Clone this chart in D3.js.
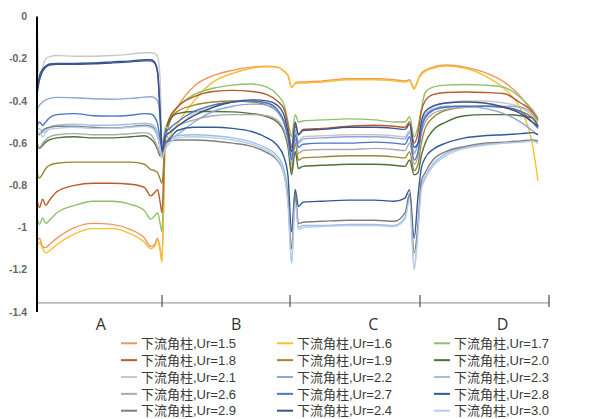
<!DOCTYPE html>
<html>
<head>
<meta charset="utf-8">
<script src="https://cdn.jsdelivr.net/npm/d3@7"></script>
<style>
  body { margin: 0; background: #fff; }
  svg { display: block; }
</style>
</head>
<body>
<div id="chart"></div>
<script>
// positions along the perimeter, in face units (A = 0..1, B = 1..2, C = 2..3, D = 3..4)
const positions = [0, 0.02, 0.045, 0.07, 0.1, 0.16, 0.3, 0.45, 0.6, 0.75, 0.86, 0.91, 0.94, 0.965, 0.985, 1.0,
  1.025, 1.06, 1.12, 1.25, 1.4, 1.55, 1.7, 1.82, 1.9, 1.955, 1.985,
  2.012, 2.04, 2.065, 2.1, 2.25, 2.45, 2.65, 2.8, 2.885, 2.92, 2.955,
  2.985, 3.01, 3.04, 3.1, 3.2, 3.35, 3.5, 3.65, 3.78, 3.87, 3.915]

const categories = ['A', 'B', 'C', 'D']
const categoryLabelPos = [0.51, 1.58, 2.64, 3.64]
const faceTicks = [1, 2, 3, 4]
const yTicks = [0, -0.2, -0.4, -0.6, -0.8, -1, -1.2, -1.4]
const yTickLabels = ['0', '-0.2', '-0.4', '-0.6', '-0.8', '-1', '-1.2', '-1.4']

const ur15 = [-1.07, -1.05, -1.09, -1.095, -1.08, -1.05, -1.0, -0.98, -0.985, -1.01, -1.05, -1.09, -1.08, -1.05, -1.1, -1.15,
  -0.6, -0.5, -0.43, -0.33, -0.28, -0.255, -0.24, -0.235, -0.24, -0.26, -0.28,
  -0.335, -0.315, -0.31, -0.31, -0.305, -0.295, -0.295, -0.3, -0.305, -0.3, -0.34,
  -0.3, -0.27, -0.255, -0.24, -0.23, -0.24, -0.265, -0.31, -0.38, -0.46, -0.52]
const ur16 = [-1.09, -1.07, -1.1, -1.12, -1.11, -1.08, -1.03, -1.005, -1.005, -1.03, -1.07, -1.1, -1.09, -1.06, -1.11, -1.165,
  -0.62, -0.57, -0.51, -0.4, -0.31, -0.27, -0.245, -0.238, -0.24, -0.26, -0.28,
  -0.335, -0.318, -0.315, -0.315, -0.31, -0.3, -0.3, -0.305, -0.31, -0.305, -0.345,
  -0.3, -0.275, -0.26, -0.245, -0.235, -0.245, -0.28, -0.34, -0.44, -0.6, -0.78]
const ur17 = [-0.955, -0.985, -0.955, -0.98, -0.965, -0.93, -0.895, -0.875, -0.875, -0.89, -0.92, -0.96, -0.945, -0.93, -0.98, -1.02,
  -0.55, -0.48, -0.43, -0.37, -0.34, -0.325, -0.32, -0.335, -0.37, -0.42, -0.5,
  -0.57, -0.465, -0.5, -0.495, -0.49, -0.485, -0.49, -0.5, -0.5, -0.475, -0.57,
  -0.52, -0.44, -0.36, -0.335, -0.325, -0.322, -0.325, -0.335, -0.385, -0.44, -0.48]
const ur18 = [-0.87, -0.905, -0.865, -0.895, -0.87, -0.83, -0.8, -0.79, -0.79, -0.795, -0.81, -0.85, -0.835, -0.82, -0.88, -0.93,
  -0.57, -0.48, -0.43, -0.38, -0.355, -0.35, -0.355, -0.37, -0.4, -0.44, -0.52,
  -0.62, -0.52, -0.56, -0.535, -0.53, -0.52, -0.515, -0.52, -0.525, -0.5, -0.6,
  -0.55, -0.45, -0.4, -0.37, -0.36, -0.358, -0.36, -0.365, -0.41, -0.45, -0.49]
const ur19 = [-0.74, -0.765, -0.745, -0.72, -0.705, -0.695, -0.69, -0.69, -0.69, -0.69, -0.7, -0.725, -0.73, -0.74, -0.77, -0.79,
  -0.58, -0.5, -0.45, -0.42, -0.405, -0.4, -0.405, -0.42, -0.45, -0.5, -0.58,
  -0.73, -0.6, -0.68, -0.67, -0.665, -0.66, -0.66, -0.665, -0.67, -0.64, -0.73,
  -0.7, -0.6, -0.53, -0.48, -0.445, -0.43, -0.425, -0.43, -0.45, -0.48, -0.52]
const ur20 = [-0.6, -0.625, -0.61, -0.595, -0.585, -0.575, -0.57, -0.575, -0.575, -0.57, -0.565, -0.58, -0.6, -0.63, -0.66, -0.66,
  -0.55, -0.49, -0.46, -0.45, -0.45, -0.452, -0.46, -0.475, -0.5, -0.55, -0.62,
  -0.75, -0.64, -0.72, -0.71, -0.705, -0.7, -0.7, -0.705, -0.71, -0.68, -0.75,
  -0.74, -0.66, -0.6, -0.54, -0.5, -0.47, -0.465, -0.465, -0.47, -0.48, -0.52]
const ur21 = [-0.02, -0.3, -0.24, -0.2, -0.19, -0.185, -0.188, -0.188, -0.185, -0.178, -0.172, -0.172, -0.175, -0.19, -0.3, -0.62,
  -0.52, -0.54, -0.52, -0.46, -0.42, -0.405, -0.4, -0.41, -0.44, -0.5, -0.57,
  -0.65, -0.53, -0.59, -0.57, -0.565, -0.56, -0.56, -0.565, -0.57, -0.54, -0.64,
  -0.6, -0.52, -0.47, -0.43, -0.41, -0.4, -0.4, -0.41, -0.43, -0.47, -0.5]
const ur22 = [-0.44, -0.42, -0.405, -0.395, -0.388, -0.383, -0.385, -0.39, -0.392, -0.388, -0.382, -0.38, -0.385, -0.4, -0.48, -0.6,
  -0.56, -0.58, -0.56, -0.5, -0.45, -0.425, -0.415, -0.42, -0.45, -0.51, -0.58,
  -0.66, -0.54, -0.6, -0.58, -0.575, -0.57, -0.57, -0.575, -0.58, -0.55, -0.65,
  -0.6, -0.52, -0.47, -0.44, -0.425, -0.425, -0.435, -0.46, -0.5, -0.54, -0.56]
const ur23 = [-0.54, -0.53, -0.55, -0.54, -0.525, -0.515, -0.51, -0.515, -0.515, -0.51, -0.505, -0.51, -0.52, -0.55, -0.6, -0.66,
  -0.62, -0.585, -0.565, -0.56, -0.565, -0.575, -0.595, -0.625, -0.66, -0.73, -0.85,
  -1.17, -0.86, -1.0, -0.99, -0.99, -0.985, -0.985, -0.99, -0.95, -0.85, -1.19,
  -1.0, -0.8, -0.76, -0.7, -0.65, -0.62, -0.605, -0.6, -0.595, -0.59, -0.6]
const ur26 = [-0.6, -0.62, -0.6, -0.585, -0.57, -0.56, -0.555, -0.56, -0.56, -0.555, -0.55, -0.56, -0.585, -0.62, -0.65, -0.67,
  -0.55, -0.55, -0.52, -0.49, -0.47, -0.465, -0.465, -0.47, -0.49, -0.54, -0.6,
  -0.7, -0.58, -0.65, -0.635, -0.63, -0.63, -0.625, -0.63, -0.635, -0.6, -0.7,
  -0.66, -0.56, -0.5, -0.46, -0.44, -0.43, -0.425, -0.425, -0.43, -0.46, -0.5]
const ur27 = [-0.52, -0.5, -0.515, -0.5, -0.48, -0.465, -0.46, -0.47, -0.472, -0.468, -0.46, -0.462, -0.475, -0.51, -0.58, -0.64,
  -0.55, -0.53, -0.5, -0.45, -0.42, -0.405, -0.4, -0.41, -0.44, -0.5, -0.57,
  -0.68, -0.56, -0.62, -0.605, -0.6, -0.6, -0.595, -0.6, -0.605, -0.57, -0.68,
  -0.64, -0.54, -0.48, -0.445, -0.43, -0.425, -0.425, -0.43, -0.45, -0.5, -0.53]
const ur28 = [-0.36, -0.28, -0.25, -0.235, -0.225, -0.222, -0.222, -0.22, -0.215, -0.21, -0.205, -0.205, -0.215, -0.26, -0.45, -0.63,
  -0.6, -0.58, -0.54, -0.525, -0.525, -0.53, -0.545, -0.575, -0.61, -0.67, -0.76,
  -1.02, -0.82, -0.9, -0.88, -0.875, -0.87, -0.87, -0.875, -0.86, -0.82, -1.05,
  -0.85, -0.72, -0.67, -0.63, -0.6, -0.575, -0.565, -0.56, -0.555, -0.55, -0.56]
const ur29 = [-0.55, -0.56, -0.54, -0.53, -0.525, -0.52, -0.52, -0.525, -0.528, -0.522, -0.515, -0.52, -0.535, -0.57, -0.62, -0.66,
  -0.6, -0.59, -0.585, -0.585, -0.59, -0.6, -0.615, -0.645, -0.68, -0.75, -0.87,
  -1.1, -0.84, -0.98, -0.975, -0.97, -0.965, -0.965, -0.97, -0.93, -0.84, -1.12,
  -0.98, -0.78, -0.74, -0.68, -0.64, -0.615, -0.6, -0.595, -0.59, -0.585, -0.59]
const ur24 = [-0.37, -0.3, -0.26, -0.24, -0.23, -0.226, -0.226, -0.224, -0.22, -0.215, -0.21, -0.21, -0.22, -0.27, -0.47, -0.64,
  -0.57, -0.55, -0.52, -0.47, -0.43, -0.405, -0.395, -0.4, -0.42, -0.47, -0.55,
  -0.64, -0.5, -0.56, -0.54, -0.535, -0.525, -0.525, -0.53, -0.535, -0.51, -0.62,
  -0.6, -0.5, -0.45, -0.425, -0.41, -0.405, -0.41, -0.43, -0.46, -0.5, -0.52]
const ur30 = [-0.56, -0.55, -0.57, -0.55, -0.535, -0.53, -0.525, -0.53, -0.53, -0.525, -0.52, -0.525, -0.54, -0.57, -0.62, -0.67,
  -0.63, -0.6, -0.575, -0.57, -0.575, -0.585, -0.605, -0.635, -0.675, -0.75, -0.9,
  -1.17, -0.88, -1.01, -1.0, -0.995, -0.99, -0.99, -0.995, -0.96, -0.87, -1.2,
  -1.02, -0.82, -0.77, -0.71, -0.66, -0.625, -0.61, -0.6, -0.595, -0.59, -0.6]

// legend order
const seriesNames = ['下流角柱,Ur=1.5', '下流角柱,Ur=1.6', '下流角柱,Ur=1.7',
  '下流角柱,Ur=1.8', '下流角柱,Ur=1.9', '下流角柱,Ur=2.0',
  '下流角柱,Ur=2.1', '下流角柱,Ur=2.2', '下流角柱,Ur=2.3',
  '下流角柱,Ur=2.6', '下流角柱,Ur=2.7', '下流角柱,Ur=2.8',
  '下流角柱,Ur=2.9', '下流角柱,Ur=2.4', '下流角柱,Ur=3.0']
const seriesValues = [ur15, ur16, ur17, ur18, ur19, ur20, ur21, ur22, ur23, ur26, ur27, ur28, ur29, ur24, ur30]
const seriesColors = ['#F0965A', '#F8C030', '#90C06A', '#B85C2C', '#A08432', '#52703A',
  '#C8C8C8', '#8EA6D8', '#9CC0E4', '#ABABAB', '#4A76C6', '#2F5A9A',
  '#7F7F7F', '#3D5288', '#B8CCEA']

const width = 604, height = 419

const svg = d3.select('#chart').append('svg')
  .attr('width', width)
  .attr('height', height)

const x = d3.scaleLinear()
  .domain([0, 1, 2, 3, 4])
  .range([37, 162, 290, 420, 549])
const y = d3.scaleLinear()
  .domain([0, -1.4])
  .range([16.5, 312])

// y axis labels
svg.append('g').selectAll('text')
  .data(yTicks)
  .enter().append('text')
    .attr('x', 27)
    .attr('y', d => y(d))
    .attr('dy', '0.35em')
    .attr('text-anchor', 'end')
    .attr('font-family', 'Liberation Sans, Arial, sans-serif')
    .attr('font-size', '10.5px')
    .attr('font-weight', 'bold')
    .attr('fill', '#666')
    .text((d, i) => yTickLabels[i])

// category axis
const axisY = y(-1.357)
svg.append('line')
  .attr('x1', x(0)).attr('x2', x(4))
  .attr('y1', axisY).attr('y2', axisY)
  .attr('stroke', '#8c8c8c')
  .attr('stroke-width', 1)

svg.append('g').selectAll('line')
  .data(faceTicks)
  .enter().append('line')
    .attr('x1', d => x(d)).attr('x2', d => x(d))
    .attr('y1', axisY - 8).attr('y2', axisY + 4)
    .attr('stroke', '#595959')
    .attr('stroke-width', 1.3)

svg.append('g').selectAll('text')
  .data(categories)
  .enter().append('text')
    .attr('x', (d, i) => x(categoryLabelPos[i]))
    .attr('y', 330)
    .attr('text-anchor', 'middle')
    .attr('font-family', 'Open Sans, Liberation Sans, sans-serif')
    .attr('font-size', '16px')
    .attr('fill', '#333')
    .text(d => d)

// lines
const line = d3.line()
  .x((d, i) => x(positions[i]))
  .y(d => y(d))
  .curve(d3.curveMonotoneX)

svg.append('g').selectAll('path')
  .data(seriesValues)
  .enter().append('path')
    .attr('d', d => line(d))
    .attr('fill', 'none')
    .attr('stroke', (d, i) => seriesColors[i])
    .attr('stroke-width', 1.4)
    .attr('stroke-linejoin', 'round')

// y axis line on top
svg.append('line')
  .attr('x1', x(0)).attr('x2', x(0))
  .attr('y1', y(0)).attr('y2', y(-1.4))
  .attr('stroke', '#000')
  .attr('stroke-width', 2)

// legend
const legendCols = [121, 277, 434]
const legend = svg.append('g').selectAll('g')
  .data(seriesNames)
  .enter().append('g')
    .attr('transform', (d, i) => 'translate(' + legendCols[i % 3] + ',' + (343.3 + Math.floor(i / 3) * 16.85) + ')')

legend.append('line')
  .attr('x1', 0).attr('x2', 16)
  .attr('stroke', (d, i) => seriesColors[i])
  .attr('stroke-width', 2)

legend.append('text')
  .attr('x', 20)
  .attr('dy', '0.36em')
  .attr('font-family', 'Liberation Sans, Noto Sans CJK SC, sans-serif')
  .attr('font-size', '13px')
  .attr('fill', '#3a3a3a')
  .text(d => d)
</script>
</body>
</html>
